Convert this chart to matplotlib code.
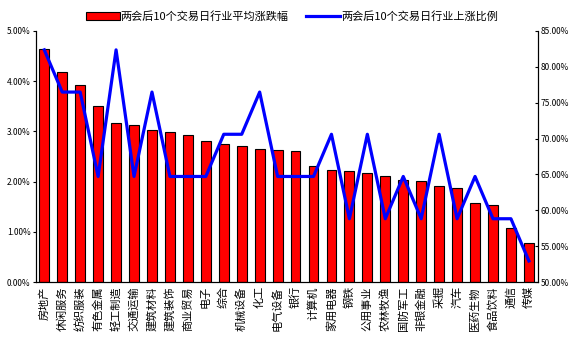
import matplotlib
matplotlib.use('Agg')
import matplotlib.pyplot as plt
import matplotlib.ticker as tkr

plt.rcParams['font.family'] = ['Noto Sans CJK SC', 'DejaVu Sans']

industries = ['房地产', '休闲服务', '纺织服装', '有色金属', '轻工制造', '交通运输', '建筑材料',
              '建筑装饰', '商业贸易', '电子', '综合', '机械设备', '化工', '电气设备', '银行',
              '计算机', '家用电器', '钢铁', '公用事业', '农林牧渔', '国防军工', '非银金融',
              '采掘', '汽车', '医药生物', '食品饮料', '通信', '传媒']
avg_change = [4.64, 4.18, 3.92, 3.51, 3.17, 3.13, 3.03, 2.99, 2.93, 2.81, 2.75, 2.71, 2.65, 2.63,
              2.61, 2.31, 2.24, 2.22, 2.18, 2.11, 2.03, 2.02, 1.91, 1.87, 1.57, 1.53, 1.07, 0.77]
up_ratio = [82.35, 76.47, 76.47, 64.71, 82.35, 64.71, 76.47, 64.71, 64.71, 64.71, 70.59, 70.59,
            76.47, 64.71, 64.71, 64.71, 70.59, 58.82, 70.59, 58.82, 64.71, 58.82, 70.59, 58.82,
            64.71, 58.82, 58.82, 52.94]
label_bar = '两会后10个交易日行业平均涨跌幅'
label_line = '两会后10个交易日行业上涨比例'

fig = plt.figure(figsize=(5.84, 3.39), dpi=100)
ax = fig.add_axes([0.062, 0.168, 0.859, 0.741])
x = list(range(len(industries)))
bars = ax.bar(x, avg_change, width=0.55, color='red', edgecolor='black', linewidth=0.8,
              label=label_bar)
ax.set_ylim(0, 5)
ax.set_xlim(-0.45, len(industries) - 0.5)
ax.yaxis.set_major_formatter(tkr.FuncFormatter(lambda v, p: '%.2f%%' % v))
ax.set_xticks(x)
ax.set_xticklabels(industries, rotation=90, fontsize=8)
ax.tick_params(axis='x', length=0, pad=3)
ax.tick_params(axis='y', labelsize=6, length=2, direction='out', pad=2)

ax2 = ax.twinx()
line, = ax2.plot(x, up_ratio, color='blue', linewidth=2.3, label=label_line)
ax2.set_ylim(50, 85)
ax2.yaxis.set_major_formatter(tkr.FuncFormatter(lambda v, p: '%.2f%%' % v))
ax2.tick_params(axis='y', labelsize=6, length=2, direction='in', pad=2)

for a in (ax, ax2):
    a.spines['top'].set_visible(False)
    for s in a.spines.values():
        s.set_linewidth(0.8)

fig.legend([bars, line], [label_bar, label_line], loc='upper center', ncol=2,
           bbox_to_anchor=(0.5, 0.99), frameon=False, fontsize=8, handlelength=3.0,
           handletextpad=0.1, columnspacing=1.6, borderaxespad=0.3)

fig.savefig('out.png', dpi=100)
